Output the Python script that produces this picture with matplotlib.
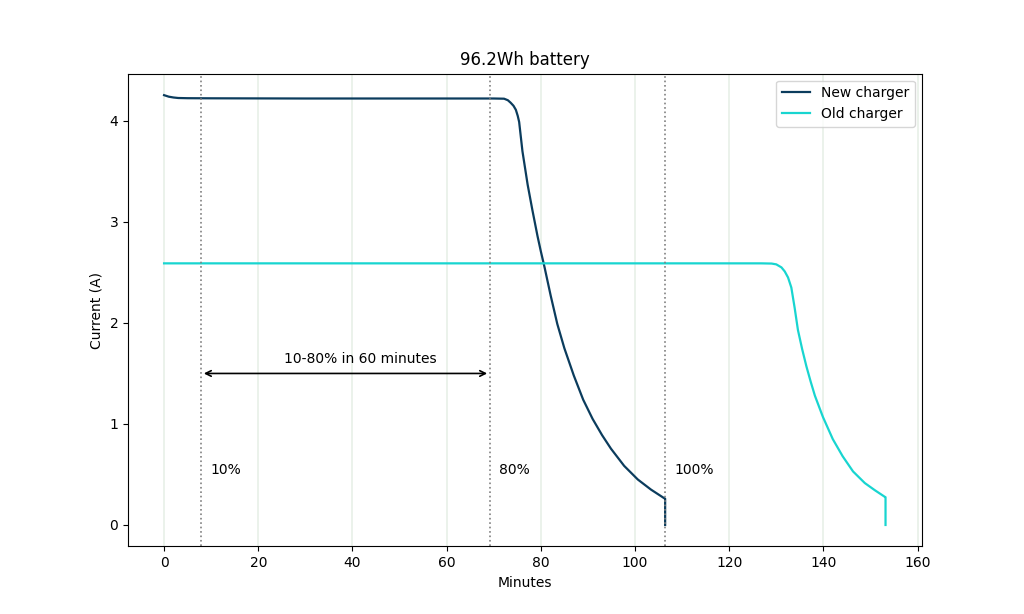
import numpy as np
import matplotlib
matplotlib.use("Agg")
import matplotlib.pyplot as plt

# values (minutes, amps)
new_t = [0, 1, 2, 3, 5, 10, 20, 30, 40, 50, 60, 70, 72.2, 73.0, 73.6, 74.2,
         74.7, 75.1, 75.4, 76.1, 77.2, 78.2, 79.3, 80.0, 80.8, 82.1, 83.5,
         85.0, 87.0, 89.0, 91.0, 93.0, 94.9, 97.7, 100.6, 103.4, 106.2,
         106.4, 106.4]
new_a = [4.255, 4.24, 4.232, 4.227, 4.225, 4.224, 4.223, 4.222, 4.222, 4.222,
         4.222, 4.222, 4.22, 4.205, 4.18, 4.15, 4.11, 4.05, 3.99, 3.70, 3.37,
         3.12, 2.86, 2.71, 2.55, 2.27, 1.99, 1.75, 1.48, 1.24, 1.05, 0.89,
         0.755, 0.585, 0.45, 0.35, 0.265, 0.26, 0.0]

old_t = [0, 20, 40, 60, 80, 100, 120, 126.8, 129, 130, 131.1, 131.8, 132.5,
         133.2, 133.9, 134.6, 135.5, 136.4, 137.3, 138.2, 139.9, 142.0, 144.1,
         146.3, 148.8, 150.9, 153.0, 153.2, 153.2]
old_a = [2.59, 2.59, 2.59, 2.59, 2.59, 2.59, 2.59, 2.59, 2.588, 2.58, 2.55,
         2.51, 2.45, 2.35, 2.15, 1.93, 1.74, 1.57, 1.42, 1.28, 1.07, 0.85,
         0.68, 0.53, 0.415, 0.345, 0.28, 0.275, 0.0]

marks = [7.85, 69.2, 106.4]
mark_labels = ["10%", "80%", "100%"]

fig, ax = plt.subplots(figsize=(10.24, 6.14), dpi=100)

ax.grid(axis="x", color="#e8f0e8", linewidth=1.2)
ax.set_axisbelow(True)

ax.plot(new_t, new_a, color="#0b3c5d", linewidth=1.6, label="New charger")
ax.plot(old_t, old_a, color="#18d5d0", linewidth=1.6, label="Old charger")

for m, lab in zip(marks, mark_labels):
    ax.axvline(m, color="gray", linestyle=":", linewidth=1.2)
    ax.text(m + 2, 0.5, lab, fontsize=10)

ax.annotate("", xy=(marks[0], 1.5), xytext=(marks[1], 1.5),
            arrowprops=dict(arrowstyle="<->", color="black", lw=1.2))
ax.text(41.7, 1.6, "10-80% in 60 minutes", ha="center", fontsize=10)

ax.set_title("96.2Wh battery", fontsize=12)
ax.set_xlabel("Minutes")
ax.set_ylabel("Current (A)")
ax.legend(loc="upper right")

fig.savefig("out.png")
